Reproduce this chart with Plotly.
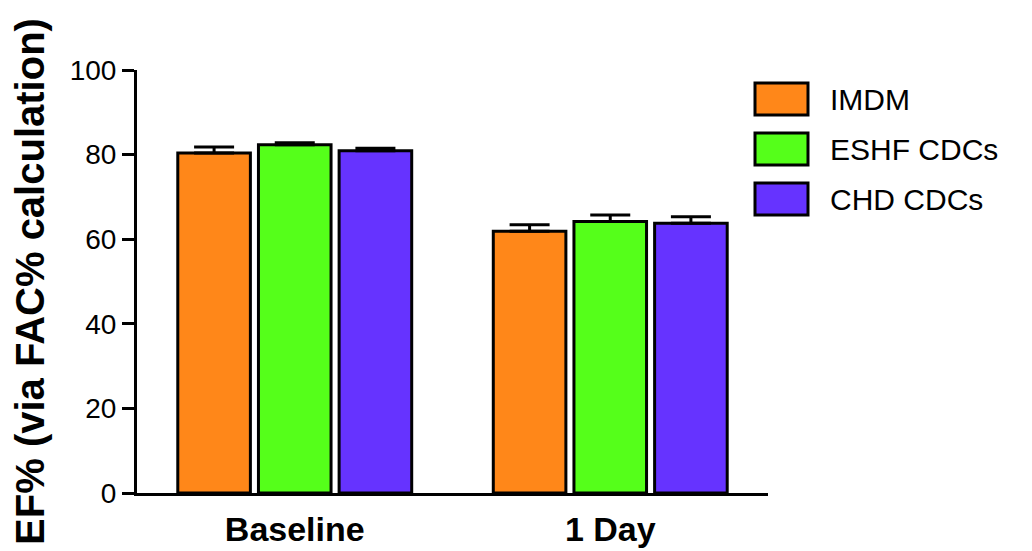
import plotly.graph_objects as go

categories = ["Baseline", "1 Day"]
series_names = ["IMDM", "ESHF CDCs", "CHD CDCs"]
series_values = {
    "IMDM": [80.4, 61.9],
    "ESHF CDCs": [82.3, 64.2],
    "CHD CDCs": [80.9, 63.8],
}
series_errors = {
    "IMDM": [1.4, 1.5],
    "ESHF CDCs": [0.5, 1.5],
    "CHD CDCs": [0.6, 1.5],
}
colors = {"IMDM": "#FF8719", "ESHF CDCs": "#55FF1A", "CHD CDCs": "#6633FF"}
y_ticks = [0, 20, 40, 60, 80, 100]

FONT = "Liberation Sans, Arial, sans-serif"

fig = go.Figure()
for name in series_names:
    fig.add_trace(go.Bar(
        x=categories, y=series_values[name], name=name,
        marker=dict(color=colors[name], line=dict(color="black", width=3)),
        error_y=dict(type="data", array=series_errors[name], arrayminus=[0, 0],
                     symmetric=False, color="black", thickness=3, width=20),
        showlegend=False,
    ))

# manual legend (large boxes like the reference); paper coords relative to plot area
PX0, PW = 137, 631      # plot-area left / width in page px
PY0, PH = 493, 423      # plot-area bottom / height in page px
def px(x):
    return (x - PX0) / PW
def py(y):
    return (PY0 - y) / PH

for i, name in enumerate(series_names):
    top = 83 + 50 * i
    bot = 115 + 50 * i
    fig.add_shape(type="rect", xref="paper", yref="paper",
                  x0=px(755), x1=px(808), y0=py(bot), y1=py(top),
                  fillcolor=colors[name], line=dict(color="black", width=3))
    fig.add_annotation(xref="paper", yref="paper", x=px(828), y=py((top + bot) / 2),
                       text=name, showarrow=False, xanchor="left", yanchor="middle",
                       font=dict(family=FONT, size=30, color="black"))

fig.update_layout(
    width=1032, height=551,
    paper_bgcolor="white", plot_bgcolor="white",
    margin=dict(l=129, r=272, t=62, b=66, autoexpand=False),
    barmode="group", bargap=0.233, bargroupgap=0.10,
    font=dict(family=FONT, color="black"),
    xaxis=dict(range=[-0.5, 1.5], showline=True, linecolor="black", linewidth=3,
               ticks="", showgrid=False, zeroline=False,
               tickfont=dict(family=FONT, size=34, color="black", weight="bold"),
               ticklabelstandoff=4),
    yaxis=dict(range=[0, 100], tickvals=y_ticks, showline=True, linecolor="black",
               linewidth=3, ticks="outside", ticklen=12, tickwidth=3, tickcolor="black",
               showgrid=False, zeroline=False,
               tickfont=dict(family=FONT, size=28, color="black"),
               title=dict(text="EF% (via FAC% calculation)", standoff=14,
                          font=dict(family=FONT, size=40, color="black", weight="bold"))),
)

fig.write_html("out.html")
